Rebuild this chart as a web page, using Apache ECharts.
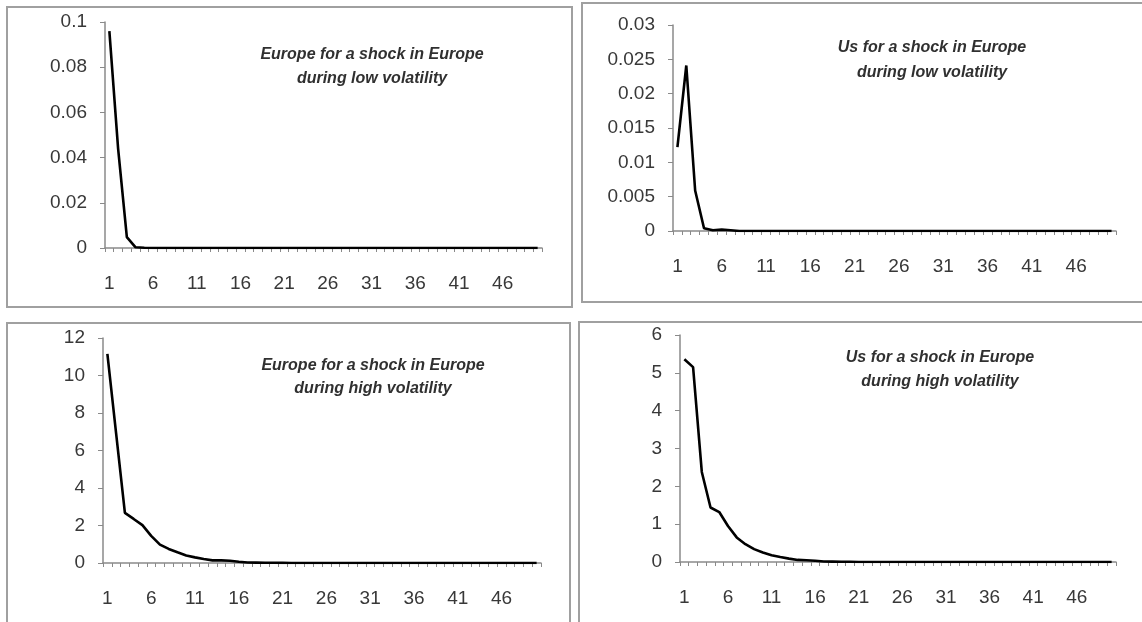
<!DOCTYPE html>
<html>
<head>
<meta charset="utf-8">
<script src="https://cdn.jsdelivr.net/npm/echarts@6/dist/echarts.min.js"></script>
<style>
html,body{margin:0;padding:0;background:#fff;}
#chart{width:1142px;height:622px;}
</style>
</head>
<body>
<div id="chart"></div>
<script>
// Horizon categories 1..50
var categories = ['1','2','3','4','5','6','7','8','9','10','11','12','13','14','15','16','17','18','19','20','21','22','23','24','25','26','27','28','29','30','31','32','33','34','35','36','37','38','39','40','41','42','43','44','45','46','47','48','49','50'];

// Europe for a shock in Europe during low volatility
var euroLow = [0.096, 0.044, 0.0048, 0.0003, 0.0001, 0, 0, 0, 0, 0,
  0, 0, 0, 0, 0, 0, 0, 0, 0, 0,
  0, 0, 0, 0, 0, 0, 0, 0, 0, 0,
  0, 0, 0, 0, 0, 0, 0, 0, 0, 0,
  0, 0, 0, 0, 0, 0, 0, 0, 0, 0];

// Us for a shock in Europe during low volatility
var usLow = [0.0122, 0.0241, 0.0059, 0.0004, 0.0001, 0.0002, 0.0001, 0, 0, 0,
  0, 0, 0, 0, 0, 0, 0, 0, 0, 0,
  0, 0, 0, 0, 0, 0, 0, 0, 0, 0,
  0, 0, 0, 0, 0, 0, 0, 0, 0, 0,
  0, 0, 0, 0, 0, 0, 0, 0, 0, 0];

// Europe for a shock in Europe during high volatility
var euroHigh = [11.15, 6.9, 2.67, 2.35, 2.02, 1.45, 0.98, 0.75, 0.57, 0.40,
  0.30, 0.21, 0.14, 0.14, 0.12, 0.07, 0.03, 0.02, 0.01, 0.01,
  0.005, 0, 0, 0, 0, 0, 0, 0, 0, 0,
  0, 0, 0, 0, 0, 0, 0, 0, 0, 0,
  0, 0, 0, 0, 0, 0, 0, 0, 0, 0];

// Us for a shock in Europe during high volatility
var usHigh = [5.36, 5.15, 2.38, 1.44, 1.32, 0.95, 0.65, 0.47, 0.34, 0.25,
  0.18, 0.13, 0.09, 0.055, 0.045, 0.035, 0.015, 0.01, 0.005, 0.005,
  0, 0, 0, 0, 0, 0, 0, 0, 0, 0,
  0, 0, 0, 0, 0, 0, 0, 0, 0, 0,
  0, 0, 0, 0, 0, 0, 0, 0, 0, 0];

var panelTitles = [
  ['Europe for a shock in Europe', 'during low volatility'],
  ['Us for a shock in Europe', 'during low volatility'],
  ['Europe for a shock in Europe', 'during high volatility'],
  ['Us for a shock in Europe', 'during high volatility']
];
var yMax = [0.1, 0.03, 12, 6];
var yStep = [0.02, 0.005, 2, 1];
var seriesData = [euroLow, usLow, euroHigh, usHigh];

// layout
var grids = [
  {left:105, top:22, width:437, height:226},
  {left:673, top:25, width:443, height:206},
  {left:103, top:338, width:438, height:225},
  {left:680, top:335, width:436, height:227}
];
var boxes = [
  {x:7, y:7, w:565, h:300},
  {x:582, y:3, w:570, h:299},
  {x:7, y:323, w:563, h:310},
  {x:579, y:322, w:570, h:310}
];
var titlePos = [
  {x:372, y1:55, y2:79},
  {x:932, y1:48, y2:73},
  {x:373, y1:366, y2:389},
  {x:940, y1:358, y2:382}
];

var labelFont = '"Liberation Sans", Arial, sans-serif';
var textColor = '#383838';
var axisGray = '#8a8a8a';

var xAxes = [], yAxes = [], series = [], graphics = [];
for (var i = 0; i < 4; i++) {
  xAxes.push({
    type:'category', gridIndex:i, data:categories, boundaryGap:true,
    axisLine:{show:true, lineStyle:{color:axisGray, width:1.5}},
    axisTick:{show:true, interval:0, alignWithLabel:false, length:4, lineStyle:{color:axisGray, width:1}},
    axisLabel:{interval:4, margin:26, fontSize:19, color:textColor, fontFamily:labelFont},
    splitLine:{show:false}
  });
  yAxes.push({
    type:'value', gridIndex:i, min:0, max:yMax[i], interval:yStep[i],
    axisLine:{show:true, lineStyle:{color:axisGray, width:1.5}},
    axisTick:{show:true, length:5, lineStyle:{color:axisGray, width:1}},
    axisLabel:{margin:18, fontSize:19, color:textColor, fontFamily:labelFont},
    splitLine:{show:false}
  });
  series.push({
    type:'line', xAxisIndex:i, yAxisIndex:i, data:seriesData[i],
    symbol:'none', smooth:false,
    lineStyle:{color:'#000', width:2.6}
  });
  graphics.push({
    type:'rect', shape:{x:boxes[i].x, y:boxes[i].y, width:boxes[i].w, height:boxes[i].h},
    style:{fill:null, stroke:'#a0a0a0', lineWidth:2}, z:-1
  });
  graphics.push({
    type:'text', x:titlePos[i].x, y:titlePos[i].y1,
    style:{text:panelTitles[i][0], textAlign:'center', textVerticalAlign:'middle',
      font:'italic bold 16px "Liberation Sans", Arial, sans-serif', fill:'#303030'}
  });
  graphics.push({
    type:'text', x:titlePos[i].x, y:titlePos[i].y2,
    style:{text:panelTitles[i][1], textAlign:'center', textVerticalAlign:'middle',
      font:'italic bold 16px "Liberation Sans", Arial, sans-serif', fill:'#303030'}
  });
}

var chart = echarts.init(document.getElementById('chart'));
chart.setOption({
  animation:false,
  backgroundColor:'#fff',
  grid:grids,
  xAxis:xAxes,
  yAxis:yAxes,
  series:series,
  graphic:graphics
});
</script>
</body>
</html>
